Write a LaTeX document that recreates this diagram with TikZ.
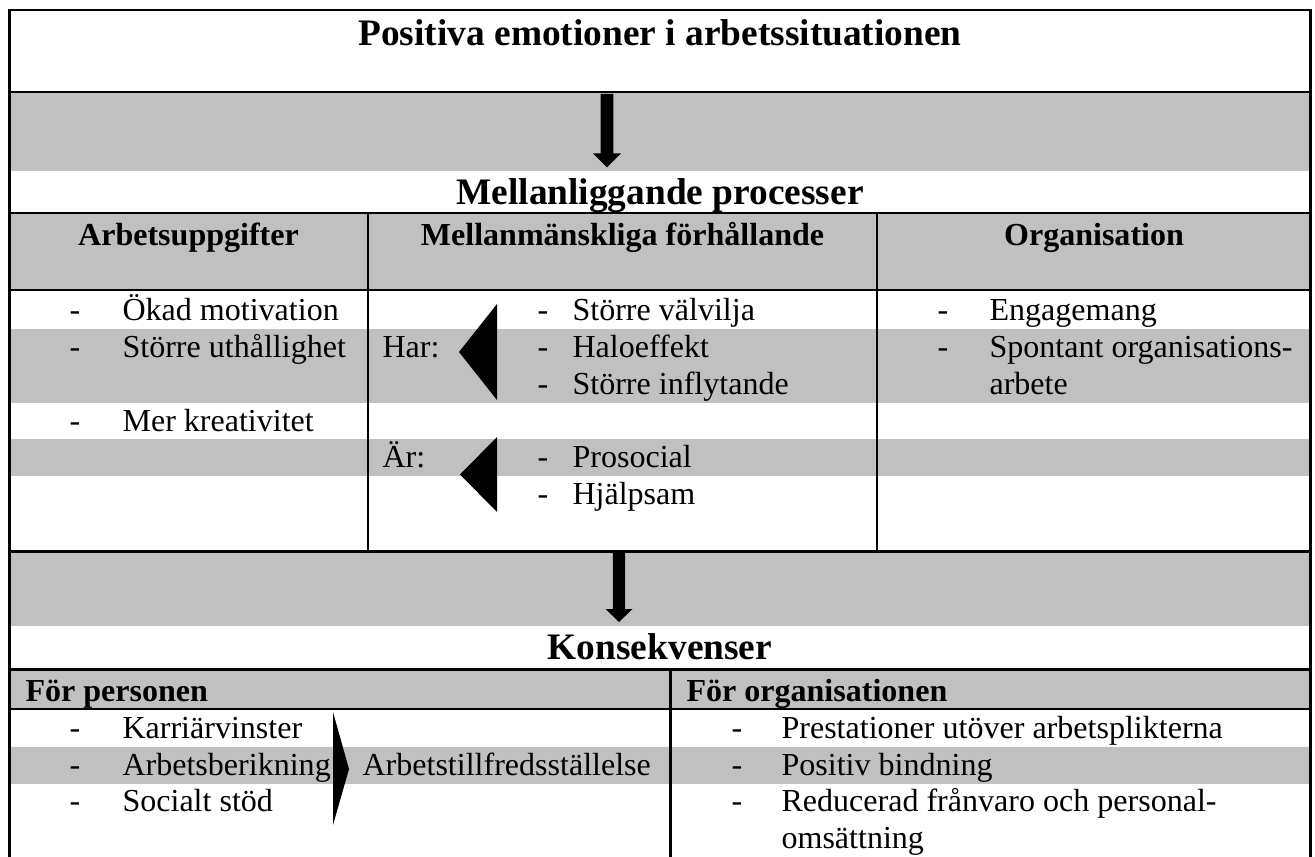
\documentclass[tikz,border=0pt]{standalone}
\usepackage{fontspec}
\setmainfont{Liberation Serif}
\definecolor{cellgray}{RGB}{192,192,192}
\begin{document}
\begin{tikzpicture}[x=0.3745pt,y=-0.3745pt,
  bigtitle/.style={font=\fontsize{14}{16}\selectfont\bfseries,inner sep=0pt,anchor=base},
  colhead/.style={font=\fontsize{12}{14}\selectfont\bfseries,inner sep=0pt,anchor=base},
  colheadw/.style={font=\fontsize{12}{14}\selectfont\bfseries,inner sep=0pt,anchor=base west},
  item/.style={font=\fontsize{12}{14}\selectfont,inner sep=0pt,anchor=base west},
  bul/.style={font=\fontsize{12}{14}\selectfont,inner sep=0pt,anchor=base},
  band/.style={fill=cellgray,draw=none},
  heavy/.style={line width=1.12pt},
  medium/.style={line width=0.75pt},
  light/.style={line width=0.56pt},
  blockarrow/.style={fill=black,draw=none}]
\useasboundingbox (0,0) rectangle (1315,856);
% grey bands
\path[band] (9,92) rectangle (1311,171);
\path[band] (9,213) rectangle (1311,290);
\path[band] (9,329) rectangle (1311,403);
\path[band] (9,439) rectangle (1311,476);
\path[band] (9,551) rectangle (1311,626);
\path[band] (9,669) rectangle (1311,709);
\path[band] (9,747) rectangle (1311,784);
% rules
\draw[heavy] (9,92) -- (1311,92);
\draw[heavy] (9,213) -- (1311,213);
\draw[medium] (9,290) -- (1311,290);
\draw[heavy] (9,551) -- (1311,551);
\draw[heavy] (9,669) -- (1311,669);
\draw[light] (9,709) -- (1311,709);
\draw[medium] (368,213) -- (368,551);
\draw[medium] (877,213) -- (877,551);
\draw[heavy] (670,669) -- (670,860);
\draw[heavy] (9.5,860) -- (9.5,10) -- (1310.5,10) -- (1310.5,860);
% block arrows
\path[blockarrow] (600.7,94) -- (613.3,94) -- (613.3,153.3) -- (621,153.3) -- (607,167.3) -- (593,153.3) -- (600.7,153.3) -- cycle;
\path[blockarrow] (612.8,553) -- (625.2,553) -- (625.2,609) -- (632.5,609) -- (619,622) -- (605.5,609) -- (612.8,609) -- cycle;
% triangles
\path[blockarrow] (497,304) -- (497,400) -- (459,352) -- cycle;
\path[blockarrow] (497,437) -- (497,512) -- (460,474.5) -- cycle;
\path[blockarrow] (333,712) -- (349,769) -- (333,825) -- cycle;
% titles
\node[bigtitle] (t1) at (660,46) {Positiva emotioner i arbetssituationen};
\node[bigtitle] (t2) at (660,204) {Mellanliggande processer};
\node[bigtitle] (t3) at (660,659) {Konsekvenser};
% column heads
\node[colhead] (h1) at (188.5,245) {Arbetsuppgifter};
\node[colhead] (h2) at (622.5,245) {Mellanmänskliga förhållande};
\node[colhead] (h3) at (1094,245) {Organisation};
\node[colheadw] (h4) at (25,701) {För personen};
\node[colheadw] (h5) at (686,701) {För organisationen};
% left column
\node[bul] (d1) at (75,320) {-};  \node[item] (a1) at (122,320) {Ökad motivation};
\node[bul] (d2) at (75,357) {-};  \node[item] (a2) at (122,357) {Större uthållighet};
\node[bul] (d3) at (75,431) {-};  \node[item] (a3) at (122,431) {Mer kreativitet};
% middle column
\node[item] (har) at (382,357) {Har:};
\node[item] (ar) at (382,467) {Är:};
\node[bul] (d4) at (543,320) {-}; \node[item] (b1) at (572,320) {Större välvilja};
\node[bul] (d5) at (543,357) {-}; \node[item] (b2) at (572,357) {Haloeffekt};
\node[bul] (d6) at (543,394) {-}; \node[item] (b3) at (572,394) {Större inflytande};
\node[bul] (d7) at (543,467) {-}; \node[item] (b4) at (572,467) {Prosocial};
\node[bul] (d8) at (543,504) {-}; \node[item] (b5) at (572,504) {Hjälpsam};
% right column
\node[bul] (d9) at (943,320) {-};  \node[item] (c1) at (989,320) {Engagemang};
\node[bul] (d10) at (943,357) {-}; \node[item] (c2) at (989,357) {Spontant organisations-};
\node[item] (c3) at (989,394) {arbete};
% bottom left
\node[bul] (e1d) at (75,738) {-}; \node[item] (e1) at (122,738) {Karriärvinster};
\node[bul] (e2d) at (75,775) {-}; \node[item] (e2) at (122,775) {Arbetsberikning};
\node[bul] (e3d) at (75,811) {-}; \node[item] (e3) at (122,811) {Socialt stöd};
\node[item] (sat) at (362,775) {Arbetstillfredsställelse};
% bottom right
\node[bul] (f1d) at (737,738) {-}; \node[item] (f1) at (781,738) {Prestationer utöver arbetsplikterna};
\node[bul] (f2d) at (737,775) {-}; \node[item] (f2) at (781,775) {Positiv bindning};
\node[bul] (f3d) at (737,811) {-}; \node[item] (f3) at (781,811) {Reducerad frånvaro och personal-};
\node[item] (f4) at (781,848) {omsättning};
\end{tikzpicture}
\end{document}
